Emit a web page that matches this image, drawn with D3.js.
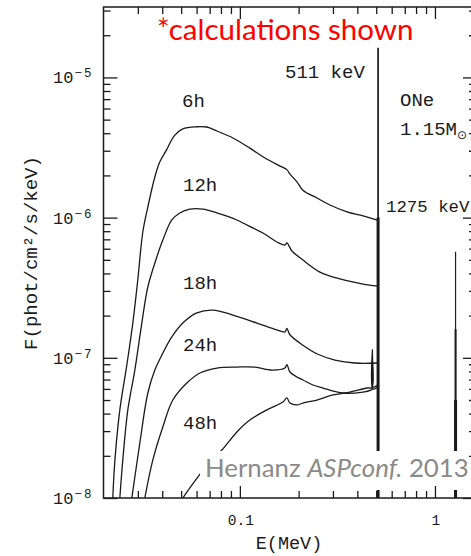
<!DOCTYPE html>
<html><head><meta charset="utf-8">
<script src="https://cdn.jsdelivr.net/npm/d3@7"></script>
<style>body{margin:0;background:#fff}svg{display:block}</style>
</head><body><svg id="chart" width="471" height="556"></svg>
<script>
// ---- data (E in MeV, F in phot/cm2/s/keV) ----
const epochs = ["6h", "12h", "18h", "24h", "48h"];

const energy6h = [0.02232,0.02285,0.02425,0.02634,0.02827,0.02997,0.03181,0.03375,0.03666,0.03889,0.04207,0.0462,0.05102,0.06016,0.0677,0.07625,0.09213,0.1125,0.1344,0.1608,0.1741,0.1802,0.1961,0.2104,0.2482,0.2894,0.3538,0.4276,0.508];
const flux6h   = [1.0e-8,1.81e-8,4.25e-8,8.9e-8,1.77e-7,3.59e-7,7.9e-7,1.19e-6,1.95e-6,2.5e-6,3.04e-6,3.85e-6,4.3e-6,4.45e-6,4.43e-6,4.15e-6,3.70e-6,3.13e-6,2.66e-6,2.33e-6,2.2e-6,2.05e-6,1.80e-6,1.57e-6,1.38e-6,1.23e-6,1.10e-6,1.03e-6,9.6e-7];

const energy12h = [0.02425,0.02512,0.02665,0.02895,0.03144,0.03375,0.03753,0.04028,0.04479,0.04923,0.05541,0.06462,0.07622,0.09653,0.1036,0.1312,0.1548,0.1701,0.1742,0.1849,0.2104,0.2572,0.3257,0.4275,0.508];
const flux12h   = [1.0e-8,1.87e-8,4.25e-8,8.18e-8,1.77e-7,3.20e-7,5.24e-7,6.92e-7,9.62e-7,1.08e-6,1.15e-6,1.15e-6,1.08e-6,9.62e-7,9.15e-7,7.77e-7,6.70e-7,6.38e-7,6.6e-7,5.78e-7,4.99e-7,4.09e-7,3.65e-7,3.36e-7,3.25e-7];

const energy18h = [0.02794,0.03071,0.03375,0.03666,0.04028,0.04479,0.05102,0.06017,0.07273,0.09208,0.1223,0.1548,0.1701,0.1742,0.1805,0.2104,0.2511,0.3071,0.3889,0.508];
const flux18h   = [1.0e-8,2.47e-8,5.61e-8,8.18e-8,1.08e-7,1.41e-7,1.77e-7,2.09e-7,2.19e-7,2.02e-7,1.77e-7,1.58e-7,1.53e-7,1.62e-7,1.46e-7,1.23e-7,1.06e-7,9.64e-8,9.18e-8,9.18e-8];

const energy24h = [0.03257,0.03581,0.04028,0.04532,0.05348,0.06236,0.07622,0.09653,0.1194,0.1459,0.1701,0.1742,0.1805,0.1961,0.2104,0.2368,0.2665,0.3375,0.4275,0.4697,0.475,0.478,0.481,0.508];
const flux24h   = [1.0e-8,1.87e-8,3.21e-8,5.0e-8,6.61e-8,7.79e-8,8.45e-8,8.59e-8,8.59e-8,8.18e-8,8.45e-8,8.95e-8,7.92e-8,7.30e-8,6.95e-8,6.40e-8,6.09e-8,5.61e-8,5.70e-8,5.89e-8,5.95e-8,1.14e-7,6.0e-8,6.19e-8];

const energy48h = [0.05102,0.05541,0.06088,0.07024,0.08086,0.09653,0.1125,0.1375,0.1662,0.1742,0.1805,0.1961,0.2104,0.2482,0.2998,0.3666,0.4479,0.475,0.478,0.481,0.508];
const flux48h   = [1.0e-8,1.18e-8,1.41e-8,1.81e-8,2.20e-8,2.96e-8,3.60e-8,4.25e-8,4.84e-8,5.17e-8,4.76e-8,4.61e-8,4.76e-8,5.0e-8,5.43e-8,5.70e-8,6.09e-8,6.15e-8,9.5e-8,6.2e-8,6.4e-8];

// gamma-ray lines: energy and peak flux of the overlapping line profiles
const lineEnergy = [0.511, 0.511, 1.275, 1.275, 1.275];
const linePeak   = [1.63e-5, 1.0e-6, 5.7e-7, 1.6e-7, 5.0e-8];

// axes ticks
const xMajor = [0.1, 1];
const xMajorLabels = ["0.1", "1"];
const xMinor = [0.03,0.04,0.05,0.06,0.07,0.08,0.09,0.2,0.3,0.4,0.5,0.6,0.7,0.8,0.9];
const yMajor = [1e-8, 1e-7, 1e-6, 1e-5];
const yMajorExp = ["−8", "−7", "−6", "−5"];
const yMinor = [2e-8,3e-8,4e-8,5e-8,6e-8,7e-8,8e-8,9e-8,2e-7,3e-7,4e-7,5e-7,6e-7,7e-7,8e-7,9e-7,2e-6,3e-6,4e-6,5e-6,6e-6,7e-6,8e-6,9e-6,2e-5,3e-5];

// ---- drawing ----
const svg = d3.select("#chart");
const L = 103.5, R = 472, T = 7, B = 498;
const x = d3.scaleLog().domain([0.02, 1.548]).range([L, R]);
const y = d3.scaleLog().domain([1e-8, 3.18e-5]).range([B, T]);
const ink = "#1a1a1a";
const mono = "'Liberation Mono', 'DejaVu Sans Mono', monospace";

svg.append("rect").attr("width", 471).attr("height", 556).attr("fill", "#fff");

svg.append("defs").append("clipPath").attr("id", "plot")
  .append("rect").attr("x", L).attr("y", T).attr("width", R - L).attr("height", B - T);

const energies = [energy6h, energy12h, energy18h, energy24h, energy48h];
const fluxes = [flux6h, flux12h, flux18h, flux24h, flux48h];
const series = epochs.map((name, i) => ({ name, pts: energies[i].map((e, j) => [e, fluxes[i][j]]) }));

const plot = svg.append("g").attr("clip-path", "url(#plot)");
const line = d3.line().x(d => x(d[0])).y(d => y(d[1])).curve(d3.curveCatmullRom.alpha(0.5));
plot.selectAll("path.spec").data(series).join("path")
  .attr("class", "spec").attr("d", d => line(d.pts))
  .attr("fill", "none").attr("stroke", ink).attr("stroke-width", 1.3).attr("stroke-linejoin", "round");

const lineWidths = [1.7, 3, 1.2, 2, 3];
plot.selectAll("line.gl").data(lineEnergy.map((e, i) => ({ e, p: linePeak[i], w: lineWidths[i] }))).join("line")
  .attr("class", "gl")
  .attr("x1", d => x(d.e)).attr("x2", d => x(d.e))
  .attr("y1", y(1e-8)).attr("y2", d => y(d.p))
  .attr("stroke", ink).attr("stroke-width", d => d.w);

// white box behind credit
svg.append("rect").attr("x", 200).attr("y", 451).attr("width", 280).attr("height", 39).attr("fill", "#fff");

// frame
svg.append("rect").attr("x", L).attr("y", T).attr("width", R - L).attr("height", B - T)
  .attr("fill", "none").attr("stroke", ink).attr("stroke-width", 1.5);

function ticks(gen, vals, size, tr) {
  const g = svg.append("g").attr("transform", tr)
    .call(gen.tickValues(vals).tickSize(size).tickFormat(""));
  g.select(".domain").remove();
  g.selectAll("line").attr("stroke", ink).attr("stroke-width", 1.3);
  g.selectAll("text").remove();
}
ticks(d3.axisRight(y), yMajor, 14, `translate(${L},0)`);
ticks(d3.axisRight(y), yMinor, 7, `translate(${L},0)`);
ticks(d3.axisLeft(y), yMajor, 9, `translate(${R},0)`);
ticks(d3.axisLeft(y), yMinor, 3, `translate(${R},0)`);
ticks(d3.axisBottom(x), xMajor, 12, `translate(0,${T})`);
ticks(d3.axisBottom(x), xMinor, 7, `translate(0,${T})`);
ticks(d3.axisTop(x), xMajor, 12, `translate(0,${B})`);
ticks(d3.axisTop(x), xMinor, 7, `translate(0,${B})`);

// y tick labels
const yl = svg.selectAll("text.yl").data(yMajor).join("text").attr("class", "yl")
  .attr("x", 53).attr("y", d => y(d) + 6)
  .attr("font-family", mono).attr("font-size", 17).attr("fill", ink);
yl.append("tspan").text("10");
yl.append("tspan").attr("dx", 1).attr("dy", -6).attr("font-size", 12.5).attr("letter-spacing", 2)
  .text((d, i) => yMajorExp[i]);

// x tick labels
svg.selectAll("text.xl").data(xMajor).join("text").attr("class", "xl")
  .attr("x", d => x(d) + 1).attr("y", 525).attr("text-anchor", "middle")
  .attr("font-family", mono).attr("font-size", 14.5).attr("fill", ink)
  .text((d, i) => xMajorLabels[i]);

// axis titles
svg.append("text").attr("x", 289).attr("y", 549).attr("text-anchor", "middle")
  .attr("font-family", mono).attr("font-size", 18.5).attr("fill", ink).text("E(MeV)");
svg.append("text").attr("transform", "translate(37,253) rotate(-90)").attr("text-anchor", "middle")
  .attr("font-family", mono).attr("font-size", 19).attr("fill", ink).text("F(phot/cm²/s/keV)");

// annotations
const ann = [["6h", 182, 107, 19], ["12h", 183, 191, 19], ["18h", 183, 289, 19], ["24h", 183, 351, 19], ["48h", 183, 429, 19],
             ["511 keV", 285, 78, 19], ["ONe", 400, 106, 19], ["1275 keV", 386, 212, 17.4]];
svg.selectAll("text.ann").data(ann).join("text").attr("class", "ann")
  .attr("x", d => d[1]).attr("y", d => d[2])
  .attr("font-family", mono).attr("font-size", d => d[3]).attr("fill", ink).text(d => d[0]);
const mt = svg.append("text").attr("x", 400).attr("y", 135)
  .attr("font-family", mono).attr("font-size", 19).attr("fill", ink);
mt.append("tspan").text("1.15M");
mt.append("tspan").attr("dy", 4).attr("font-size", 12).attr("font-family", "'DejaVu Sans'").text("⊙");

// overlay texts
svg.append("text").attr("x", 157).attr("y", 40)
  .attr("font-family", "Lato, 'Open Sans', sans-serif").attr("font-size", 29.5).attr("fill", "#ff0000")
  .text("*calculations shown");
const cr = svg.append("text").attr("x", 205).attr("y", 477)
  .attr("font-family", "Lato, 'Open Sans', sans-serif").attr("font-size", 25.8).attr("fill", "#8a8a8a");
cr.append("tspan").text("Hernanz ");
cr.append("tspan").attr("font-style", "italic").text("ASPconf.");
cr.append("tspan").text(" 2013");
</script></body></html>
